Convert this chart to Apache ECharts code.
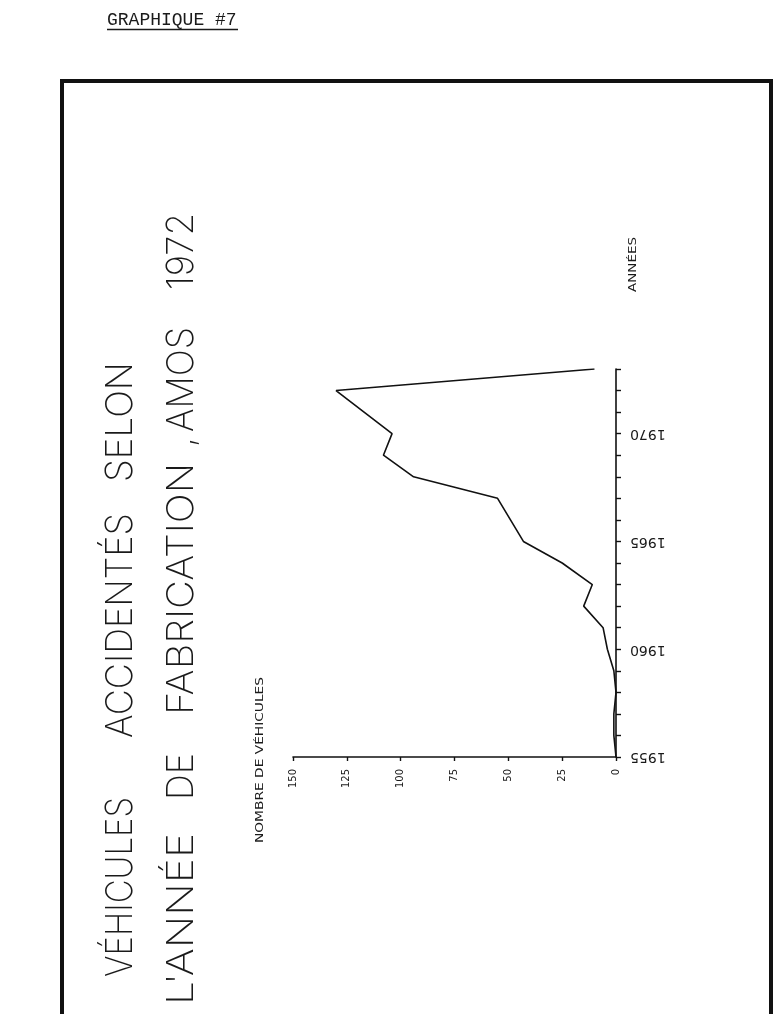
<!DOCTYPE html>
<html>
<head>
<meta charset="utf-8">
<title>Graphique 7</title>
<script src="https://cdn.jsdelivr.net/npm/echarts@6/dist/echarts.min.js"></script>
<style>
  html, body { margin: 0; padding: 0; background: #fff; }
  #chart { width: 775px; height: 1014px; }
</style>
</head>
<body>
<div id="chart"></div>
<script>
// annee de fabrication -> nombre de vehicules accidentes (Amos, 1972)
const years = [1955, 1956, 1957, 1958, 1959, 1960, 1961, 1962, 1963, 1964,
               1965, 1966, 1967, 1968, 1969, 1970, 1971, 1972, 1973];
const vehicles = [0, 1, 1, 0, 1, 4, 6, 15, 11, 25,
                  43, 49, 55, 94, 108, 104, 117, 130, 10];
const valueTicks = [0, 25, 50, 75, 100, 125, 150];
const yearLabels = [1955, 1960, 1965, 1970];

const pageLabel = 'GRAPHIQUE #7';
const titleWords1 = ['VÉHICULES', 'ACCIDENTÉS', 'SELON'];
const titleWords2 = ["L'ANNÉE", 'DE', 'FABRICATION', ',', 'AMOS', '1972'];
const valueName = 'NOMBRE DE VÉHICULES';
const yearName = 'ANNÉES';

// layout: where each rotated word starts (bottom) and ends (top)
const line1 = { x: 121, spans: [[977, 797], [738, 513], [482, 362]] };
const line2 = { x: 182, spans: [[1005, 833], [800, 753], [715, 463], [447, 437], [432, 327], [290, 213]] };

const ink = '#1a1a1a';
const titleFont = '200 37px Inter, Roboto, "DejaVu Sans", sans-serif';
const smallFont = '10px "DejaVu Sans", sans-serif';

const measure = document.createElement('canvas').getContext('2d');

// vertical text read from bottom to top, stretched to fill its span
function vtext(text, font, x, from, to, fit) {
  measure.font = font;
  const w = measure.measureText(text).width;
  return {
    type: 'text',
    x: x,
    y: from,
    rotation: Math.PI / 2,
    scaleX: fit ? (from - to) / w : 1,
    silent: true,
    style: { text: text, font: font, fill: ink, textAlign: 'left', textVerticalAlign: 'middle' }
  };
}

const graphics = [
  {
    type: 'rect',
    shape: { x: 62, y: 81, width: 709, height: 980 },
    style: { fill: 'none', stroke: '#111', lineWidth: 4 },
    silent: true
  },
  {
    type: 'text', x: 107, y: 20, silent: true,
    style: { text: pageLabel, font: '18px "Liberation Mono", "DejaVu Sans Mono", monospace', fill: ink, textVerticalAlign: 'middle' }
  },
  {
    type: 'line', silent: true,
    shape: { x1: 107, y1: 29.5, x2: 238, y2: 29.5 },
    style: { stroke: ink, lineWidth: 1.6 }
  },
  vtext(valueName, smallFont, 260, 843, 677, true),
  vtext(yearName, smallFont, 633, 292, 237, true)
];

titleWords1.forEach(function (w, i) {
  const s = line1.spans[i];
  graphics.push(vtext(w, titleFont, line1.x, s[0], s[1], w.length > 1));
});
titleWords2.forEach(function (w, i) {
  const s = line2.spans[i];
  graphics.push(vtext(w, titleFont, line2.x, s[0], s[1], w.length > 1));
});

const chart = echarts.init(document.getElementById('chart'));
chart.setOption({
  animation: false,
  backgroundColor: '#fff',
  grid: { left: 293, right: 159, top: 369, bottom: 257 },
  xAxis: {
    type: 'value',
    inverse: true,
    min: 0,
    max: 150,
    interval: 25,
    position: 'bottom',
    splitLine: { show: false },
    axisLine: { onZero: false, lineStyle: { color: '#111', width: 1.6 } },
    axisTick: { length: 4, lineStyle: { color: '#111', width: 1.4 } },
    axisLabel: {
      rotate: 90,
      margin: 12,
      color: ink,
      fontFamily: 'DejaVu Sans',
      fontSize: 10,
      formatter: function (v) { return valueTicks.indexOf(v) >= 0 ? String(v) : ''; }
    }
  },
  yAxis: {
    type: 'value',
    min: 1955,
    max: 1973,
    interval: 1,
    position: 'right',
    splitLine: { show: false },
    axisLine: { onZero: false, lineStyle: { color: '#111', width: 1.6 } },
    axisTick: { length: 5, lineStyle: { color: '#111', width: 1.4 } },
    axisLabel: {
      rotate: 180,
      margin: 14,
      color: ink,
      fontFamily: 'DejaVu Sans',
      fontSize: 14,
      formatter: function (v) { return yearLabels.indexOf(v) >= 0 ? String(v) : ''; }
    }
  },
  series: [{
    type: 'line',
    data: years.map(function (y, i) { return [vehicles[i], y]; }),
    symbol: 'none',
    silent: true,
    lineStyle: { color: '#111', width: 1.6 }
  }],
  graphic: graphics
});
</script>
</body>
</html>
